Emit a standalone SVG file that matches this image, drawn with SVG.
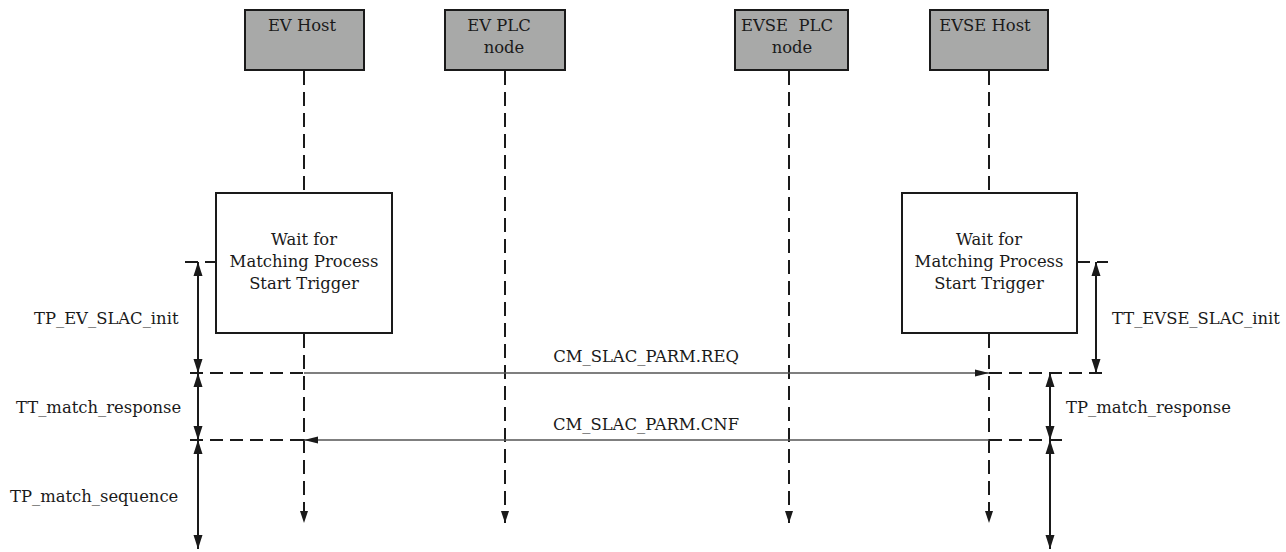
<svg xmlns="http://www.w3.org/2000/svg" width="1286" height="552" viewBox="0 0 1286 552">
<defs>
<marker id="ah" viewBox="0 0 14 10" refX="14" refY="5" markerWidth="14" markerHeight="10" markerUnits="userSpaceOnUse" orient="auto-start-reverse">
<path d="M0,0.5 L14,5 L0,9.5 Z" fill="#1a1a1a"/>
</marker>
<marker id="ahl" viewBox="0 0 12 9" refX="12" refY="4.5" markerWidth="12" markerHeight="9" markerUnits="userSpaceOnUse" orient="auto-start-reverse">
<path d="M0,0.5 L12,4.5 L0,8.5 Z" fill="#1a1a1a"/>
</marker>
<marker id="ahm" viewBox="0 0 14 10" refX="14" refY="5" markerWidth="14" markerHeight="10" markerUnits="userSpaceOnUse" orient="auto-start-reverse">
<path d="M0,1.5 L14,5 L0,8.5 Z" fill="#1a1a1a"/>
</marker>
</defs>
<style>
text{font-family:"DejaVu Serif","Liberation Serif",serif;font-size:16.4px;fill:#1a1a1a;white-space:pre}
.mid{text-anchor:middle}
.head{fill:#a8a9a8;stroke:#1a1a1a;stroke-width:2}
.box{fill:#fff;stroke:#1a1a1a;stroke-width:2}
.life{stroke:#1a1a1a;stroke-width:2;stroke-dasharray:14 7;fill:none}
.dash{stroke:#1a1a1a;stroke-width:2;stroke-dasharray:13 7;fill:none}
.msg{stroke:#555;stroke-width:1.3;fill:none}
.dim{stroke:#1a1a1a;stroke-width:2;fill:none}
</style>
<rect width="1286" height="552" fill="#fff"/>
<g id="connectors">
<line class="life" x1="304" y1="71" x2="304" y2="193"/>
<line class="life" x1="304" y1="334" x2="304" y2="523" marker-end="url(#ahl)"/>
<line class="life" x1="505" y1="71" x2="505" y2="523" marker-end="url(#ahl)"/>
<line class="life" x1="789" y1="71" x2="789" y2="523" marker-end="url(#ahl)"/>
<line class="life" x1="989" y1="71" x2="989" y2="193"/>
<line class="life" x1="989" y1="334" x2="989" y2="523" marker-end="url(#ahl)"/>
<line class="dash" x1="185" y1="262" x2="216" y2="262"/>
<line class="dash" x1="1077" y1="262" x2="1108" y2="262"/>
<line class="dash" x1="190" y1="373" x2="304" y2="373"/>
<line class="msg" x1="304" y1="373" x2="989" y2="373" marker-end="url(#ahm)"/>
<line class="dash" x1="989" y1="373" x2="1104" y2="373"/>
<line class="dash" x1="190" y1="440" x2="304" y2="440"/>
<line class="msg" x1="989" y1="440" x2="304" y2="440" marker-end="url(#ahm)"/>
<line class="dash" x1="989" y1="440" x2="1062" y2="440"/>
<line class="dim" x1="198" y1="262" x2="198" y2="373" marker-start="url(#ah)" marker-end="url(#ah)"/>
<line class="dim" x1="198" y1="373" x2="198" y2="440" marker-start="url(#ah)" marker-end="url(#ah)"/>
<line class="dim" x1="198" y1="440" x2="198" y2="549" marker-start="url(#ah)" marker-end="url(#ah)"/>
<line class="dim" x1="1096" y1="262" x2="1096" y2="373" marker-start="url(#ah)" marker-end="url(#ah)"/>
<line class="dim" x1="1050" y1="373" x2="1050" y2="440" marker-start="url(#ah)" marker-end="url(#ah)"/>
<line class="dim" x1="1050" y1="440" x2="1050" y2="549" marker-start="url(#ah)" marker-end="url(#ah)"/>
</g>
<g id="ev-host"><rect class="head" x="245" y="10" width="119" height="60"/><text class="mid" x="302" y="31">EV Host</text></g>
<g id="ev-plc"><rect class="head" x="445" y="10" width="120" height="60"/><text class="mid" x="499" y="31">EV PLC</text><text class="mid" x="504" y="53">node</text></g>
<g id="evse-plc"><rect class="head" x="735" y="10" width="113" height="60"/><text class="mid" x="787" y="31">EVSE  PLC</text><text class="mid" x="792" y="53">node</text></g>
<g id="evse-host"><rect class="head" x="930" y="10" width="118" height="60"/><text class="mid" x="985" y="31">EVSE Host</text></g>
<g id="ev-wait"><rect class="box" x="216" y="193" width="176" height="140"/><text class="mid" x="304" y="245">Wait for</text><text class="mid" x="304" y="267">Matching Process</text><text class="mid" x="304" y="289">Start Trigger</text></g>
<g id="evse-wait"><rect class="box" x="902" y="193" width="175" height="140"/><text class="mid" x="989" y="245">Wait for</text><text class="mid" x="989" y="267">Matching Process</text><text class="mid" x="989" y="289">Start Trigger</text></g>
<g id="labels">
<text x="34" y="324">TP_EV_SLAC_init</text>
<text x="16" y="413">TT_match_response</text>
<text x="10" y="502">TP_match_sequence</text>
<text x="1112" y="324">TT_EVSE_SLAC_init</text>
<text x="1066" y="413">TP_match_response</text>
<text class="mid" x="646" y="362">CM_SLAC_PARM.REQ</text>
<text class="mid" x="646" y="430">CM_SLAC_PARM.CNF</text>
</g>
</svg>
